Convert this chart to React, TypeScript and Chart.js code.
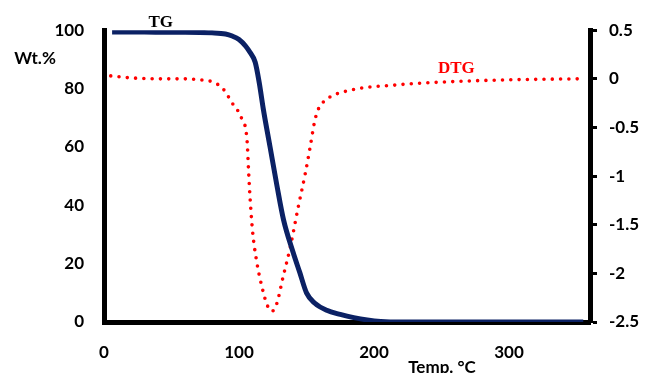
import React, { useEffect, useRef } from "react";
import { Chart, registerables } from "chart.js";

Chart.register(...registerables);

// TG curve (Temperature °C, Wt.%)
const tgTemp = [6, 20, 40, 60, 80, 90, 95, 100, 105, 108, 112, 115, 118, 123, 128, 133, 140, 145, 150, 156, 165, 175, 185, 195, 205, 220, 260, 300, 355];
const tgWeight = [99.4, 99.4, 99.3, 99.3, 99.1, 98.7, 98.0, 96.8, 94.5, 92.5, 89, 82, 73, 60, 47, 35, 24, 17, 10, 6.5, 4, 2.6, 1.5, 0.7, 0.2, 0, 0, 0, 0];

// DTG curve (Temperature °C, derivative)
const dtgTemp = [5, 20, 40, 60, 70, 80, 88, 95, 102, 106, 107, 108, 110, 113, 117, 121, 124.4, 128, 132.6, 138, 143.7, 149, 152.6, 156, 158.5, 165, 178.5, 219, 256, 300, 352];
const dtgValue = [0.03, 0.01, 0, 0, -0.01, -0.03, -0.1, -0.25, -0.41, -0.64, -0.92, -1.18, -1.56, -1.87, -2.14, -2.33, -2.39, -2.31, -2.04, -1.73, -1.33, -0.98, -0.71, -0.44, -0.32, -0.21, -0.13, -0.06, -0.03, -0.01, 0];

const xTicks = [0, 100, 200, 300];
const xTitle = "Temp. \u00B0C";
const yTitle = "Wt.%";
const tgLabel = "TG";
const dtgLabel = "DTG";

const labelsPlugin = {
  id: "labelsPlugin",
  afterDraw(chart: any) {
    const { ctx, scales } = chart;
    ctx.save();
    ctx.textAlign = "center";
    ctx.textBaseline = "middle";
    ctx.fillStyle = "#000";
    ctx.font = "bold 17px Lato";
    ctx.fillText(yTitle, 35, 59);
    ctx.fillText(xTitle, 442, 368);
    ctx.font = "bold 17px 'Liberation Serif'";
    ctx.fillText(tgLabel, scales.x.getPixelForValue(42), scales.y.getPixelForValue(102.6));
    ctx.fillStyle = "#ff0000";
    ctx.fillText(dtgLabel, scales.x.getPixelForValue(261), scales.y2.getPixelForValue(0.11));
    ctx.restore();
  },
};

export default function App() {
  const ref = useRef<HTMLCanvasElement | null>(null);
  useEffect(() => {
    if (!ref.current) return;
    const tickFont = { family: "Lato", size: 17, weight: "bold" as const };
    const chart = new Chart(ref.current, {
      type: "line",
      data: {
        datasets: [
          {
            label: "TG",
            data: tgTemp.map((t, i) => ({ x: t, y: tgWeight[i] })),
            borderColor: "#0b2164",
            borderWidth: 5,
            pointRadius: 0,
            cubicInterpolationMode: "monotone",
            yAxisID: "y",
          },
          {
            label: "DTG",
            data: dtgTemp.map((t, i) => ({ x: t, y: dtgValue[i] })),
            borderColor: "#ff0000",
            borderWidth: 3.6,
            borderDash: [0, 8.3],
            borderCapStyle: "round",
            pointRadius: 0,
            cubicInterpolationMode: "monotone",
            yAxisID: "y2",
          },
        ],
      },
      options: {
        animation: false,
        responsive: false,
        devicePixelRatio: 1,
        layout: { padding: { top: 30, left: 0, right: 0, bottom: 0 } },
        plugins: { legend: { display: false }, tooltip: { enabled: false } },
        scales: {
          x: {
            type: "linear",
            min: 0,
            max: 360,
            afterBuildTicks: (s: any) => {
              s.ticks = xTicks.map((v) => ({ value: v }));
            },
            afterFit: (s: any) => {
              s.height = 51;
            },
            grid: { display: false, drawTicks: false },
            border: { display: true, color: "#000", width: 5 },
            ticks: { color: "#000", font: tickFont, padding: 20, maxRotation: 0 },
          },
          y: {
            type: "linear",
            position: "left",
            min: 0,
            max: 100,
            ticks: { stepSize: 20, color: "#000", font: tickFont, padding: 20 },
            afterFit: (s: any) => {
              s.width = 104;
            },
            grid: { display: false, drawTicks: false },
            border: { display: true, color: "#000", width: 5 },
          },
          y2: {
            type: "linear",
            position: "right",
            min: -2.5,
            max: 0.5,
            ticks: {
              stepSize: 0.5,
              color: "#000",
              font: tickFont,
              padding: 12,
              callback: (v: any) => String(Math.round(Number(v) * 10) / 10),
            },
            afterFit: (s: any) => {
              s.width = 59;
            },
            grid: { display: true, drawOnChartArea: false, drawTicks: true, tickLength: 7, tickWidth: 3, color: "#000" },
            border: { display: true, color: "#000", width: 5 },
          },
        },
      },
      plugins: [labelsPlugin],
    } as any);
    return () => chart.destroy();
  }, []);
  return (
    <div style={{ position: "absolute", left: 0, top: 0, width: 649, height: 373, background: "#fff" }}>
      <canvas ref={ref} width={649} height={373} />
    </div>
  );
}
